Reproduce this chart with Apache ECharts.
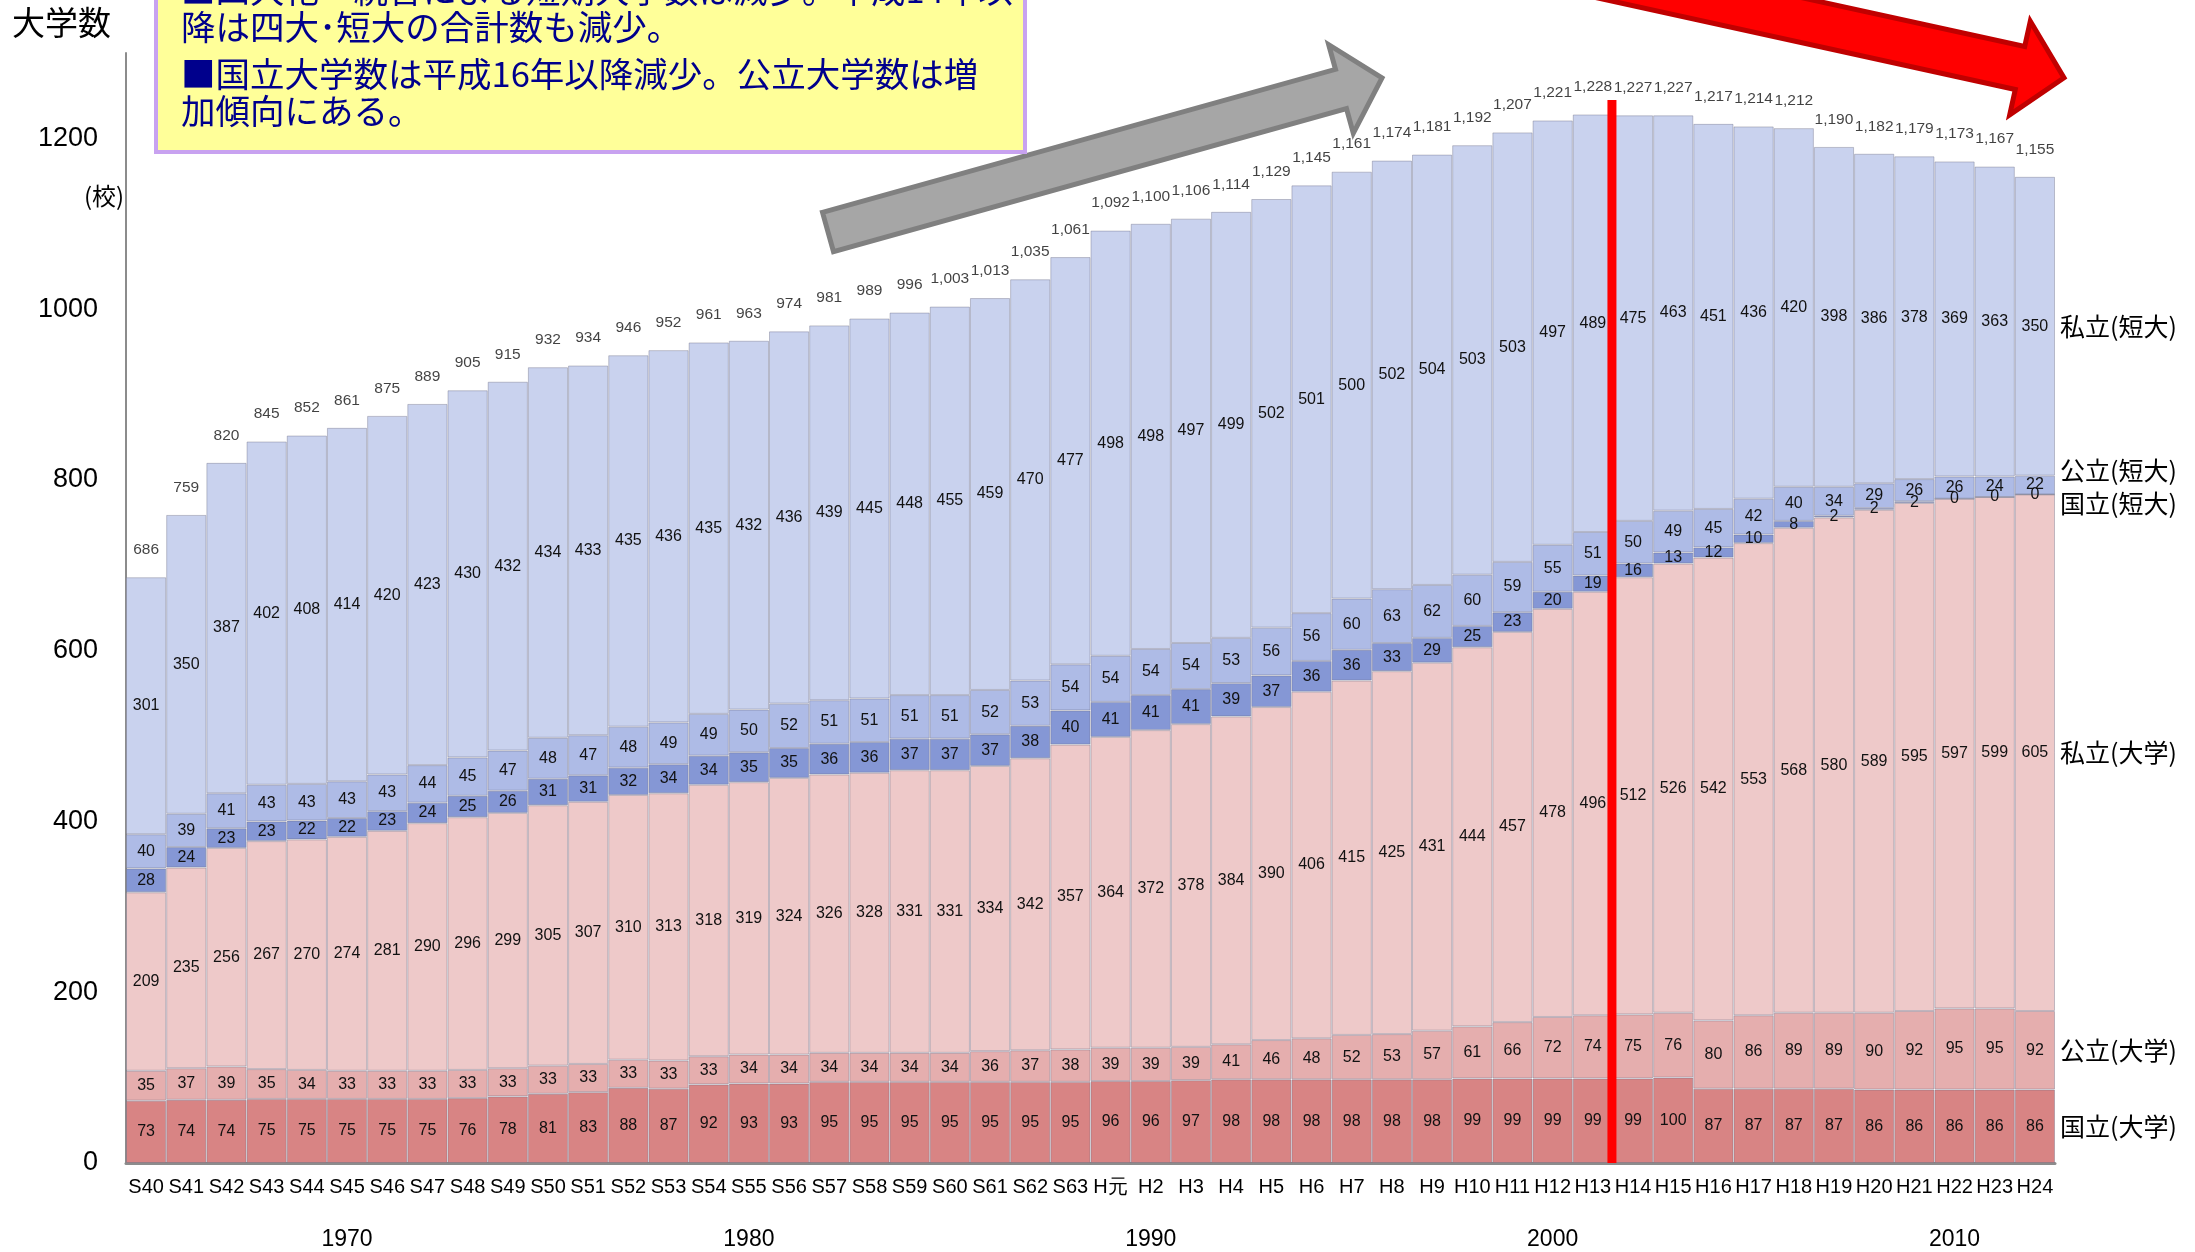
<!DOCTYPE html>
<html><head><meta charset="utf-8">
<script src="https://cdn.jsdelivr.net/npm/echarts/dist/echarts.min.js"></script>
<style>html,body{margin:0;padding:0;background:#fff}#c{width:2195px;height:1252px}</style>
</head><body><div id="c"></div>
<script>
// ---- data ----
const categories = ['S40','S41','S42','S43','S44','S45','S46','S47','S48','S49','S50','S51','S52','S53','S54','S55','S56','S57','S58','S59','S60','S61','S62','S63',
  'H元','H2','H3','H4','H5','H6','H7','H8','H9','H10','H11','H12','H13','H14','H15','H16','H17','H18','H19','H20','H21','H22','H23','H24'];
const kokuritsuDaigaku = [73,74,74,75,75,75,75,75,76,78,81,83,88,87,92,93,93,95,95,95,95,95,95,95,
  96,96,97,98,98,98,98,98,98,99,99,99,99,99,100,87,87,87,87,86,86,86,86,86];
const kouritsuDaigaku = [35,37,39,35,34,33,33,33,33,33,33,33,33,33,33,34,34,34,34,34,34,36,37,38,
  39,39,39,41,46,48,52,53,57,61,66,72,74,75,76,80,86,89,89,90,92,95,95,92];
const shiritsuDaigaku = [209,235,256,267,270,274,281,290,296,299,305,307,310,313,318,319,324,326,328,331,331,334,342,357,
  364,372,378,384,390,406,415,425,431,444,457,478,496,512,526,542,553,568,580,589,595,597,599,605];
const kokuritsuTandai = [28,24,23,23,22,22,23,24,25,26,31,31,32,34,34,35,35,36,36,37,37,37,38,40,
  41,41,41,39,37,36,36,33,29,25,23,20,19,16,13,12,10,8,2,2,2,0,0,0];
const kouritsuTandai = [40,39,41,43,43,43,43,44,45,47,48,47,48,49,49,50,52,51,51,51,51,52,53,54,
  54,54,54,53,56,56,60,63,62,60,59,55,51,50,49,45,42,40,34,29,26,26,24,22];
const shiritsuTandai = [301,350,387,402,408,414,420,423,430,432,434,433,435,436,435,432,436,439,445,448,455,459,470,477,
  498,498,497,499,502,501,500,502,504,503,503,497,489,475,463,451,436,420,398,386,378,369,363,350];
const totals = [686,759,820,845,852,861,875,889,905,915,932,934,946,952,961,963,974,981,989,996,1003,1013,1035,1061,
  1092,1100,1106,1114,1129,1145,1161,1174,1181,1192,1207,1221,1228,1227,1227,1217,1214,1212,1190,1182,1179,1173,1167,1155];
const seriesNames = ['国立(大学)','公立(大学)','私立(大学)','国立(短大)','公立(短大)','私立(短大)'];
const yearTickCats = ['S45','S55','H2','H12','H22'];
const yearTickLabels = ['1970','1980','1990','2000','2010'];
const noteLines = ['■四大化・統合による短期大学数は減少。平成14年以','降は四大･短大の合計数も減少。','■国立大学数は平成16年以降減少。公立大学数は増','加傾向にある。'];

// ---- styles ----
const NUM = '"Liberation Sans", Arial, sans-serif';
const JP = '"Noto Sans CJK JP", "Noto Sans", sans-serif';
const colors = ['#D88484','#E5AEAE','#EEC9C9','#8597D5','#AEBBE6','#C9D2EE'];
const seriesData = [kokuritsuDaigaku,kouritsuDaigaku,shiritsuDaigaku,kokuritsuTandai,kouritsuTandai,shiritsuTandai];

const chart = echarts.init(document.getElementById('c'));
const series = seriesData.map((d,i)=>({
  name: seriesNames[i], type:'bar', stack:'total', data:d,
  barCategoryGap:'0%',
  itemStyle:{color:colors[i], borderColor:'rgba(105,105,130,0.38)', borderWidth:1},
  label:{show:true, position:'inside', color:'#111', fontSize:16, fontFamily:NUM},
  emphasis:{disabled:true}, silent:true
}));
series.push({
  name:'合計', type:'scatter', data:totals, symbol:'circle', symbolSize:1,
  itemStyle:{color:'rgba(0,0,0,0)'}, silent:true,
  label:{show:true, position:'top', distance:19, color:'#111', fontSize:15.5, fontFamily:NUM,
    formatter:p=>Number(p.value).toLocaleString('en-US')}
});

chart.setOption({
  animation:false,
  backgroundColor:'#fff',
  grid:{left:126, right:140, top:53, bottom:89, containLabel:false},
  xAxis:[
    {type:'category', data:categories, axisLine:{lineStyle:{color:'#8c8c8c', width:3}}, axisTick:{show:false},
     axisLabel:{interval:0, color:'#000', fontSize:20, fontFamily:NUM, margin:14}},
    {type:'category', data:categories, position:'bottom', offset:53, axisLine:{show:false}, axisTick:{show:false},
     axisLabel:{interval:0, color:'#000', fontSize:23, fontFamily:NUM, margin:12,
       formatter:v=>{const k=yearTickCats.indexOf(v); return k>=0?yearTickLabels[k]:'';}}}
  ],
  yAxis:{type:'value', min:0, max:1300, interval:200,
    axisLine:{show:true, lineStyle:{color:'#8c8c8c', width:2}}, axisTick:{show:false}, splitLine:{show:false},
    axisLabel:{color:'#000', fontSize:27, fontFamily:NUM, margin:28, formatter:v=> v%200===0 ? String(v) : ''}},
  series:series
});

// ---- annotations (positions from the chart's own scales where tied to data) ----
const px = (cat,val)=>chart.convertToPixel({xAxisIndex:0,yAxisIndex:0},[cat,val]);
const last = categories.length-1;
const band = px(categories[1],0)[0]-px(categories[0],0)[0];
const barRight = px(categories[last],0)[0]+band/2;
const labelNudge = [0,0,0,9,-15,0];
const graphics = [];
let cum = 0;
seriesData.forEach((d,i)=>{
  const c = cum + d[last]/2; cum += d[last];
  const y = px(categories[last], c)[1] + labelNudge[i];
  graphics.push({type:'text', x:barRight+5, y:y, z:50,
    style:{text:seriesNames[i], fill:'#000', fontSize:25, fontFamily:JP, align:'left', verticalAlign:'middle'}});
});
// red vertical line between H13 and H14
const xb = (px('H13',0)[0]+px('H14',0)[0])/2;
const yTop = px('H14',1245)[1], yBot = px('H14',0)[1];
graphics.push({type:'rect', z:60, shape:{x:xb-5.5, y:yTop, width:9, height:yBot-yTop}, style:{fill:'#FF0000'}});
// axis titles
graphics.push({type:'text', x:12, y:22, z:50, style:{text:'大学数', fill:'#000', fontSize:33, fontFamily:JP, verticalAlign:'middle'}});
graphics.push({type:'text', x:84, y:196, z:50, style:{text:'(校)', fill:'#000', fontSize:24, fontFamily:JP, verticalAlign:'middle'}});
// note box
graphics.push({type:'rect', z:70, shape:{x:156, y:-60, width:869, height:212}, style:{fill:'#FFFF99', stroke:'#C8A2F0', lineWidth:4}});
const noteY = [-10,27,74,111];
noteLines.forEach((t,i)=>graphics.push({type:'text', x:181, y:noteY[i], z:71,
  style:{text:t, fill:'#00008C', fontSize:34.5, fontFamily:JP, verticalAlign:'middle'}}));
// gray arrow
graphics.push({type:'polygon', z:65, shape:{points:[[822.5,212.3],[1335.5,69.3],[1328.7,44.7],[1382,78],[1353.3,133.3],[1346.5,108.7],[833.5,251.7]]},
  style:{fill:'#A6A6A6', stroke:'#808080', lineWidth:5, lineJoin:'miter'}});
// red arrow
graphics.push({type:'polygon', z:65, shape:{points:[[1438,-82],[2024.7,46.5],[2030.3,21.1],[2064,77.7],[2009.7,114.9],[2015.3,89.5],[1429,-39]]},
  style:{fill:'#FF0000', stroke:'#C00000', lineWidth:5, lineJoin:'miter'}});
chart.setOption({graphic:graphics});
</script></body></html>
